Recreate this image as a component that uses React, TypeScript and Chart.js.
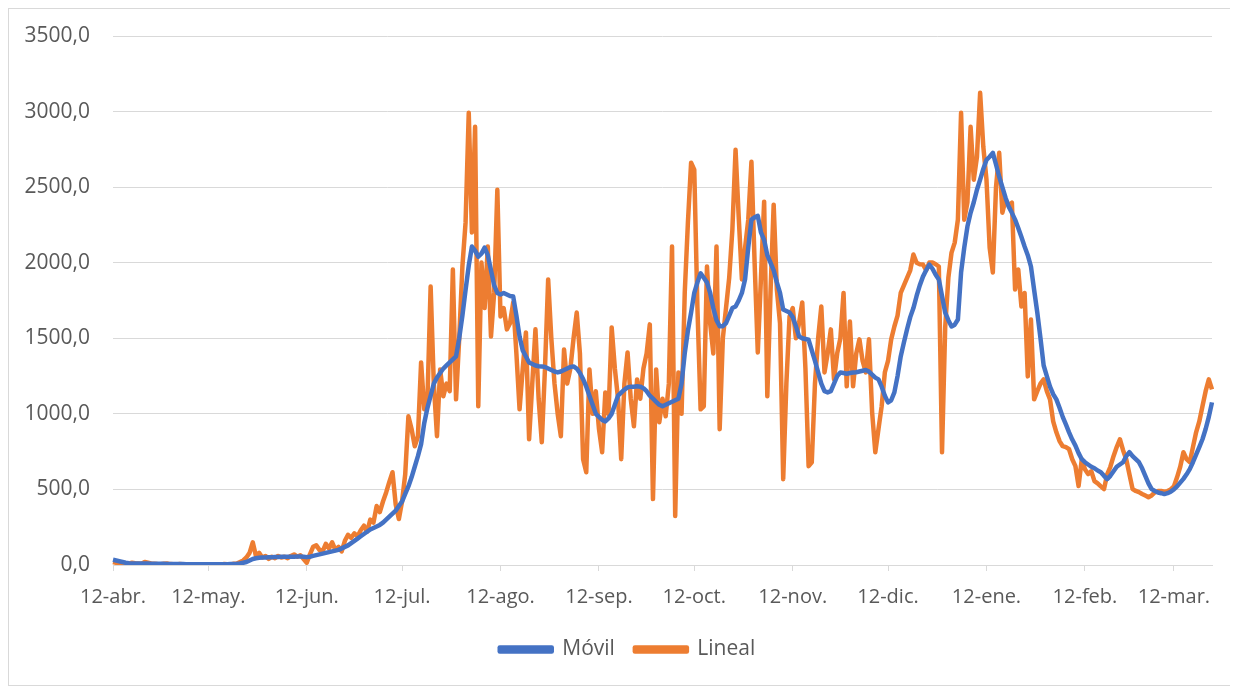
import React, { useEffect, useRef } from "react";
import { Chart, registerables } from "chart.js";

Chart.register(...registerables);

// First day of the series (12 April 2020), one point per day
const START_UTC = Date.UTC(2020, 3, 12);
const MONTHS = ["ene.", "feb.", "mar.", "abr.", "may.", "jun.", "jul.", "ago.", "sep.", "oct.", "nov.", "dic."];
const TICK_DAY = "12-";
const SERIES_NAMES = ["Móvil", "Lineal"];
const Y_MIN = 0;
const Y_MAX = 3500;
const Y_STEP = 500;

// Móvil (blue) – daily values
const movil = [
  // 12-abr .. 22-may
  35, 30, 25, 20, 15, 12, 10, 10, 10, 10, 10, 10, 9, 9, 8, 8, 8, 7, 7, 7,
  6, 6, 6, 5, 5, 5, 5, 5, 5, 5, 5, 5, 5, 5, 5, 5, 5, 6, 7, 8, 10,
  // .. 12-jun
  15, 20, 30, 40, 45, 48, 50, 50, 52, 52, 53, 53, 54, 54, 55, 55, 55, 56, 56, 55, 52,
  // .. 12-jul
  55, 60, 65, 70, 75, 80, 85, 90, 95, 100, 110, 120, 130, 145, 160, 175, 190, 205, 220, 235,
  245, 255, 265, 280, 300, 320, 340, 360, 390, 420,
  // .. 12-ago
  470, 520, 580, 650, 720, 800, 940, 1040, 1120, 1200, 1240, 1270, 1300, 1320, 1340, 1360, 1380, 1500, 1650, 1820,
  1980, 2107, 2080, 2040, 2060, 2100, 2050, 1950, 1850, 1800, 1790,
  // .. 12-sep
  1800, 1790, 1780, 1776, 1650, 1512, 1420, 1380, 1340, 1330, 1320, 1315, 1314, 1310, 1300, 1290, 1280, 1274, 1280, 1290,
  1300, 1310, 1314, 1300, 1270, 1230, 1180, 1120, 1060, 1000, 980,
  // .. 12-oct
  960, 950, 970, 1000, 1060, 1120, 1140, 1160, 1175, 1180, 1180, 1182, 1180, 1170, 1150, 1120, 1100, 1080, 1060, 1050,
  1060, 1070, 1080, 1090, 1100, 1200, 1400, 1550, 1670, 1800,
  // .. 12-nov
  1870, 1930, 1900, 1870, 1800, 1700, 1620, 1580, 1580, 1600, 1650, 1700, 1710, 1750, 1800, 1890, 2100, 2285, 2300, 2310,
  2200, 2150, 2050, 2000, 1950, 1870, 1800, 1690, 1680, 1670, 1640,
  // .. 12-dic
  1580, 1512, 1500, 1495, 1490, 1420, 1350, 1274, 1200, 1150, 1142, 1150, 1200, 1250, 1274, 1270, 1265, 1270, 1274, 1275,
  1280, 1285, 1290, 1280, 1260, 1240, 1228, 1180, 1120, 1076,
  // .. 12-ene
  1090, 1142, 1250, 1380, 1472, 1560, 1640, 1700, 1780, 1850, 1908, 1950, 1988, 1960, 1920, 1889, 1780, 1670, 1620, 1578,
  1590, 1624, 1935, 2100, 2239, 2330, 2400, 2483, 2550, 2620, 2680,
  // .. 12-feb
  2701, 2727, 2650, 2569, 2500, 2430, 2371, 2330, 2285, 2230, 2170, 2107, 2050, 1975, 1820, 1670, 1500, 1320, 1250, 1180,
  1130, 1096, 1040, 980, 930, 878, 830, 790, 740, 700, 680,
  // .. 12-mar
  665, 650, 640, 625, 614, 590, 568, 590, 620, 650, 665, 680, 720, 746, 720, 700, 680, 640, 590, 540,
  502, 490, 480, 475, 469, 475, 485, 500,
  // .. 24-mar
  520, 545, 570, 600, 634, 680, 730, 780, 832, 900, 980, 1076,
];

// Lineal (orange) – daily values
const lineal = [
  // 12-abr .. 22-may
  20, 15, 10, 12, 8, 10, 15, 12, 10, 8, 20, 15, 10, 8, 6, 5, 8, 10, 6, 5,
  4, 6, 5, 4, 3, 5, 4, 3, 5, 4, 3, 4, 5, 3, 4, 6, 5, 4, 8, 10, 20,
  // .. 12-jun
  30, 50, 80, 150, 60, 80, 50, 60, 40, 55, 45, 60, 50, 55, 45, 60, 70, 55, 65, 40, 15,
  // .. 12-jul
  70, 120, 130, 100, 90, 140, 110, 150, 100, 120, 90, 160, 200, 180, 210, 190, 230, 260, 220, 300,
  280, 390, 350, 420, 480, 550, 614, 400, 304, 420,
  // .. 12-ago
  600, 984, 900, 786, 850, 1340, 1030, 1100, 1842, 1200, 852, 1294, 1116, 1200, 1150, 1955, 1096, 1500, 1975, 2265,
  2992, 2200, 2899, 1050, 2001, 1700, 2107, 1512, 1800, 2483, 1644,
  // .. 12-sep
  1700, 1559, 1600, 1737, 1400, 1030, 1300, 1539, 832, 1200, 1559, 1100, 812, 1300, 1889, 1500, 1200, 1000, 852, 1426,
  1200, 1300, 1500, 1670, 1400, 700, 614, 1294, 1000, 1150, 900,
  // .. 12-oct
  746, 1142, 1000, 1572, 1300, 1100, 700, 1200, 1406, 1100, 918, 1228, 1100, 1300, 1400, 1592, 436, 1294, 944, 1100,
  984, 1200, 2107, 324, 1274, 1000, 1800, 2265, 2661, 2615,
  // .. 12-nov
  1700, 1030, 1050, 1975, 1600, 1400, 2107, 898, 1500, 1700, 1900, 2219, 2747, 2300, 1889, 2100, 2285, 2668, 2000, 1406,
  1900, 2404, 1116, 1800, 2384, 1823, 1600, 568, 1200, 1644, 1700,
  // .. 12-dic
  1500, 1600, 1737, 1300, 654, 680, 1200, 1500, 1710, 1274, 1400, 1559, 1228, 1400, 1500, 1800, 1182, 1611, 1182, 1400,
  1493, 1350, 1274, 1493, 1010, 746, 900, 1050, 1274, 1350,
  // .. 12-ene
  1493, 1578, 1650, 1800, 1850, 1900, 1950, 2054, 2000, 1990, 1988, 1950, 2001, 2001, 1990, 1975, 746, 1572, 1900, 2067,
  2133, 2285, 2992, 2285, 2400, 2899, 2549, 2700, 3124, 2767, 2549,
  // .. 12-feb
  2100, 1935, 2500, 2727, 2331, 2417, 2380, 2397, 1823, 1955, 1710, 1800, 1248, 1624, 1096, 1150, 1200, 1228, 1150, 1096,
  950, 878, 820, 786, 780, 766, 700, 654, 522, 700, 634,
  // .. 12-mar
  601, 620, 555, 540, 520, 502, 600, 650, 720, 780, 832, 760, 700, 600, 502, 490, 482, 470, 460, 449,
  460, 480, 489, 490, 485, 489, 500, 520,
  // .. 24-mar
  580, 650, 746, 700, 680, 780, 878, 950, 1050, 1150, 1228, 1162,
];

const categories = movil.map((_, i) => {
  const d = new Date(START_UTC + i * 86400000);
  return `${d.getUTCDate()}-${MONTHS[d.getUTCMonth()]}`;
});

const fmtY = (v: number) => v.toFixed(1).replace(".", ",");

// Moves the legend block sideways so it sits where the original one does
const legendShift = {
  id: "legendShift",
  afterLayout(chart: any) {
    const l = chart.legend;
    if (l) {
      l.left += 17;
      l.right += 17;
    }
  },
};

export default function App() {
  const ref = useRef<HTMLCanvasElement | null>(null);

  useEffect(() => {
    if (!ref.current) return;
    Chart.defaults.font.family = "'Open Sans', sans-serif";
    const chart = new Chart(ref.current, {
      type: "line",
      data: {
        labels: categories,
        datasets: [
          {
            label: SERIES_NAMES[0],
            data: movil,
            borderColor: "#4472C4",
            backgroundColor: "#4472C4",
            borderWidth: 4.5,
            pointRadius: 0,
            tension: 0,
            borderJoinStyle: "round",
          },
          {
            label: SERIES_NAMES[1],
            data: lineal,
            borderColor: "#ED7D31",
            backgroundColor: "#ED7D31",
            borderWidth: 4.5,
            pointRadius: 0,
            tension: 0,
            borderJoinStyle: "round",
          },
        ],
      },
      plugins: [legendShift],
      options: {
        animation: false,
        responsive: true,
        maintainAspectRatio: false,
        layout: { padding: { left: 0, right: 23, top: 27, bottom: 15 } },
        plugins: {
          tooltip: { enabled: false },
          legend: {
            position: "bottom",
            labels: {
              boxWidth: 52,
              boxHeight: 4,
              padding: 20,
              color: "#595959",
              font: { size: 21 },
            },
          },
        },
        scales: {
          x: {
            type: "category",
            offset: false,
            afterFit: (s: any) => {
              s.height = 54;
            },
            grid: {
              display: true,
              drawOnChartArea: false,
              drawTicks: true,
              tickLength: 6,
              color: "#d9d9d9",
            },
            border: { display: true, color: "#d9d9d9", width: 1 },
            ticks: {
              autoSkip: false,
              maxRotation: 0,
              minRotation: 0,
              padding: 14,
              color: "#595959",
              font: { size: 20 },
              callback: (_v: any, i: number) =>
                categories[i].startsWith(TICK_DAY) ? categories[i] : null,
            },
          },
          y: {
            min: Y_MIN,
            max: Y_MAX,
            afterFit: (s: any) => {
              s.width = 104;
            },
            grid: {
              color: "#d9d9d9",
              drawTicks: true,
              tickLength: 23,
              tickColor: "rgba(0,0,0,0)",
              lineWidth: 1,
            },
            border: { display: false },
            ticks: {
              stepSize: Y_STEP,
              padding: 0,
              color: "#595959",
              font: { size: 21 },
              callback: (v: any) => fmtY(Number(v)),
            },
          },
        },
      },
    });
    return () => chart.destroy();
  }, []);

  return (
    <div
      style={{
        width: 1226,
        height: 676,
        border: "1px solid #d9d9d9",
        background: "#fff",
        position: "relative",
      }}
    >
      <canvas ref={ref} />
    </div>
  );
}
